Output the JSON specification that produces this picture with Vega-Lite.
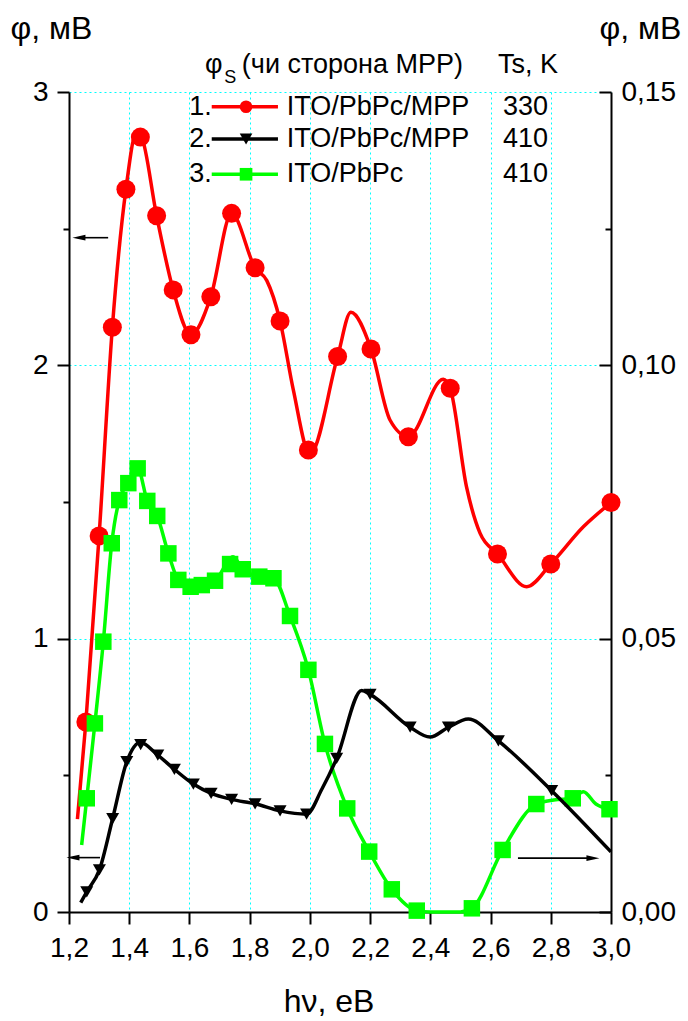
{
  "$schema": "https://vega.github.io/schema/vega-lite/v6.json",
  "width": 542,
  "height": 820,
  "autosize": {"type": "none"},
  "padding": {"left": 69, "top": 92, "right": 77, "bottom": 109},
  "background": "white",
  "config": {
    "view": {"stroke": null},
    "font": "Liberation Sans",
    "text": {"font": "Liberation Sans", "color": "#000000"},
    "axis": {
      "domainColor": "#000000",
      "domainWidth": 2,
      "tickColor": "#000000",
      "tickWidth": 2,
      "labelColor": "#000000",
      "labelFont": "Liberation Sans",
      "labelFontSize": 28,
      "titleFont": "Liberation Sans",
      "titleFontSize": 32,
      "titleFontWeight": "normal",
      "titleColor": "#000000",
      "gridColor": "#00ffff",
      "gridDash": [2, 3],
      "gridWidth": 1,
      "labelOverlap": false,
      "labelFlush": false,
      "labelBound": false
    }
  },
  "datasets": {
    "lines": [
      {"s": "1", "hv": 1.228, "phi": 0.34},
      {"s": "1", "hv": 1.256, "phi": 0.695},
      {"s": "1", "hv": 1.3, "phi": 1.376},
      {"s": "1", "hv": 1.344, "phi": 2.139},
      {"s": "1", "hv": 1.389, "phi": 2.644},
      {"s": "1", "hv": 1.425, "phi": 2.855},
      {"s": "1", "hv": 1.44, "phi": 2.84},
      {"s": "1", "hv": 1.491, "phi": 2.547},
      {"s": "1", "hv": 1.546, "phi": 2.276},
      {"s": "1", "hv": 1.605, "phi": 2.112},
      {"s": "1", "hv": 1.671, "phi": 2.251},
      {"s": "1", "hv": 1.74, "phi": 2.556},
      {"s": "1", "hv": 1.818, "phi": 2.357},
      {"s": "1", "hv": 1.857, "phi": 2.31},
      {"s": "1", "hv": 1.901, "phi": 2.162},
      {"s": "1", "hv": 1.945, "phi": 1.91},
      {"s": "1", "hv": 2.0, "phi": 1.675},
      {"s": "1", "hv": 2.092, "phi": 2.032},
      {"s": "1", "hv": 2.136, "phi": 2.194},
      {"s": "1", "hv": 2.203, "phi": 2.06},
      {"s": "1", "hv": 2.266, "phi": 1.8},
      {"s": "1", "hv": 2.327, "phi": 1.739},
      {"s": "1", "hv": 2.443, "phi": 1.949},
      {"s": "1", "hv": 2.466, "phi": 1.916},
      {"s": "1", "hv": 2.52, "phi": 1.556},
      {"s": "1", "hv": 2.565, "phi": 1.386},
      {"s": "1", "hv": 2.623, "phi": 1.31},
      {"s": "1", "hv": 2.72, "phi": 1.19},
      {"s": "1", "hv": 2.8, "phi": 1.273},
      {"s": "1", "hv": 2.909, "phi": 1.41},
      {"s": "1", "hv": 3.0, "phi": 1.498},

      {"s": "3", "hv": 1.242, "phi": 0.245},
      {"s": "3", "hv": 1.259, "phi": 0.416},
      {"s": "3", "hv": 1.286, "phi": 0.69},
      {"s": "3", "hv": 1.314, "phi": 0.989},
      {"s": "3", "hv": 1.342, "phi": 1.349},
      {"s": "3", "hv": 1.367, "phi": 1.507},
      {"s": "3", "hv": 1.397, "phi": 1.569},
      {"s": "3", "hv": 1.428, "phi": 1.623},
      {"s": "3", "hv": 1.46, "phi": 1.504},
      {"s": "3", "hv": 1.493, "phi": 1.449},
      {"s": "3", "hv": 1.53, "phi": 1.312},
      {"s": "3", "hv": 1.563, "phi": 1.215},
      {"s": "3", "hv": 1.604, "phi": 1.19},
      {"s": "3", "hv": 1.641, "phi": 1.196},
      {"s": "3", "hv": 1.685, "phi": 1.212},
      {"s": "3", "hv": 1.745, "phi": 1.3},
      {"s": "3", "hv": 1.777, "phi": 1.254},
      {"s": "3", "hv": 1.832, "phi": 1.227},
      {"s": "3", "hv": 1.879, "phi": 1.221},
      {"s": "3", "hv": 1.934, "phi": 1.083},
      {"s": "3", "hv": 1.995, "phi": 0.886},
      {"s": "3", "hv": 2.05, "phi": 0.615},
      {"s": "3", "hv": 2.124, "phi": 0.379},
      {"s": "3", "hv": 2.197, "phi": 0.221},
      {"s": "3", "hv": 2.272, "phi": 0.083},
      {"s": "3", "hv": 2.355, "phi": 0.005},
      {"s": "3", "hv": 2.4, "phi": 0.0},
      {"s": "3", "hv": 2.5, "phi": 0.0},
      {"s": "3", "hv": 2.538, "phi": 0.0135},
      {"s": "3", "hv": 2.64, "phi": 0.227},
      {"s": "3", "hv": 2.752, "phi": 0.395},
      {"s": "3", "hv": 2.81, "phi": 0.41},
      {"s": "3", "hv": 2.873, "phi": 0.416},
      {"s": "3", "hv": 2.908, "phi": 0.44},
      {"s": "3", "hv": 2.95, "phi": 0.395},
      {"s": "3", "hv": 2.995, "phi": 0.376},

      {"s": "2", "hv": 1.239, "phi": 0.0017},
      {"s": "2", "hv": 1.259, "phi": 0.0037},
      {"s": "2", "hv": 1.301, "phi": 0.0077},
      {"s": "2", "hv": 1.345, "phi": 0.0171},
      {"s": "2", "hv": 1.392, "phi": 0.0275},
      {"s": "2", "hv": 1.437, "phi": 0.031},
      {"s": "2", "hv": 1.495, "phi": 0.0287},
      {"s": "2", "hv": 1.55, "phi": 0.0261},
      {"s": "2", "hv": 1.613, "phi": 0.0234},
      {"s": "2", "hv": 1.672, "phi": 0.0217},
      {"s": "2", "hv": 1.74, "phi": 0.0206},
      {"s": "2", "hv": 1.818, "phi": 0.0198},
      {"s": "2", "hv": 1.901, "phi": 0.0185},
      {"s": "2", "hv": 1.989, "phi": 0.0179},
      {"s": "2", "hv": 2.04, "phi": 0.0225},
      {"s": "2", "hv": 2.089, "phi": 0.0281},
      {"s": "2", "hv": 2.172, "phi": 0.0405},
      {"s": "2", "hv": 2.2, "phi": 0.0398},
      {"s": "2", "hv": 2.333, "phi": 0.0338},
      {"s": "2", "hv": 2.399, "phi": 0.032},
      {"s": "2", "hv": 2.46, "phi": 0.0338},
      {"s": "2", "hv": 2.526, "phi": 0.0353},
      {"s": "2", "hv": 2.626, "phi": 0.0313},
      {"s": "2", "hv": 2.803, "phi": 0.0222},
      {"s": "2", "hv": 3.0, "phi": 0.011}
    ],
    "markers": [
      {"s": "1", "hv": 1.256, "phi": 0.695},
      {"s": "1", "hv": 1.3, "phi": 1.376},
      {"s": "1", "hv": 1.344, "phi": 2.139},
      {"s": "1", "hv": 1.389, "phi": 2.644},
      {"s": "1", "hv": 1.437, "phi": 2.835},
      {"s": "1", "hv": 1.491, "phi": 2.547},
      {"s": "1", "hv": 1.546, "phi": 2.276},
      {"s": "1", "hv": 1.605, "phi": 2.112},
      {"s": "1", "hv": 1.671, "phi": 2.251},
      {"s": "1", "hv": 1.74, "phi": 2.556},
      {"s": "1", "hv": 1.818, "phi": 2.357},
      {"s": "1", "hv": 1.901, "phi": 2.162},
      {"s": "1", "hv": 1.995, "phi": 1.69},
      {"s": "1", "hv": 2.092, "phi": 2.032},
      {"s": "1", "hv": 2.203, "phi": 2.06},
      {"s": "1", "hv": 2.327, "phi": 1.739},
      {"s": "1", "hv": 2.466, "phi": 1.916},
      {"s": "1", "hv": 2.623, "phi": 1.31},
      {"s": "1", "hv": 2.8, "phi": 1.273},
      {"s": "1", "hv": 3.0, "phi": 1.498},

      {"s": "3", "hv": 1.259, "phi": 0.416},
      {"s": "3", "hv": 1.286, "phi": 0.69},
      {"s": "3", "hv": 1.314, "phi": 0.989},
      {"s": "3", "hv": 1.342, "phi": 1.349},
      {"s": "3", "hv": 1.367, "phi": 1.507},
      {"s": "3", "hv": 1.397, "phi": 1.569},
      {"s": "3", "hv": 1.428, "phi": 1.623},
      {"s": "3", "hv": 1.46, "phi": 1.504},
      {"s": "3", "hv": 1.493, "phi": 1.449},
      {"s": "3", "hv": 1.53, "phi": 1.312},
      {"s": "3", "hv": 1.563, "phi": 1.215},
      {"s": "3", "hv": 1.604, "phi": 1.19},
      {"s": "3", "hv": 1.641, "phi": 1.196},
      {"s": "3", "hv": 1.685, "phi": 1.212},
      {"s": "3", "hv": 1.735, "phi": 1.273},
      {"s": "3", "hv": 1.777, "phi": 1.254},
      {"s": "3", "hv": 1.832, "phi": 1.227},
      {"s": "3", "hv": 1.879, "phi": 1.221},
      {"s": "3", "hv": 1.934, "phi": 1.083},
      {"s": "3", "hv": 1.995, "phi": 0.886},
      {"s": "3", "hv": 2.05, "phi": 0.615},
      {"s": "3", "hv": 2.124, "phi": 0.379},
      {"s": "3", "hv": 2.197, "phi": 0.221},
      {"s": "3", "hv": 2.272, "phi": 0.083},
      {"s": "3", "hv": 2.355, "phi": 0.005},
      {"s": "3", "hv": 2.538, "phi": 0.0135},
      {"s": "3", "hv": 2.64, "phi": 0.227},
      {"s": "3", "hv": 2.752, "phi": 0.395},
      {"s": "3", "hv": 2.873, "phi": 0.416},
      {"s": "3", "hv": 2.995, "phi": 0.376},

      {"s": "2", "hv": 1.259, "phi": 0.0037},
      {"s": "2", "hv": 1.301, "phi": 0.0077},
      {"s": "2", "hv": 1.345, "phi": 0.0171},
      {"s": "2", "hv": 1.392, "phi": 0.0275},
      {"s": "2", "hv": 1.438, "phi": 0.0306},
      {"s": "2", "hv": 1.495, "phi": 0.0287},
      {"s": "2", "hv": 1.55, "phi": 0.0261},
      {"s": "2", "hv": 1.613, "phi": 0.0234},
      {"s": "2", "hv": 1.672, "phi": 0.0217},
      {"s": "2", "hv": 1.74, "phi": 0.0206},
      {"s": "2", "hv": 1.818, "phi": 0.0198},
      {"s": "2", "hv": 1.901, "phi": 0.0185},
      {"s": "2", "hv": 1.989, "phi": 0.0179},
      {"s": "2", "hv": 2.089, "phi": 0.0281},
      {"s": "2", "hv": 2.2, "phi": 0.0398},
      {"s": "2", "hv": 2.333, "phi": 0.0338},
      {"s": "2", "hv": 2.46, "phi": 0.0338},
      {"s": "2", "hv": 2.626, "phi": 0.0313},
      {"s": "2", "hv": 2.803, "phi": 0.0222}
    ],
    "legend": [
      {"s": "1", "n": "1.", "label": "ITO/PbPc/MPP", "ts": "330", "ly": 2.946},
      {"s": "2", "n": "2.", "label": "ITO/PbPc/MPP", "ts": "410", "ly": 2.828},
      {"s": "3", "n": "3.", "label": "ITO/PbPc", "ts": "410", "ly": 2.699}
    ],
    "header": [
      {"t": "φ", "part": "main", "hx": 1.652, "hy": 3.099},
      {"t": "(чи сторона MPP)", "part": "main", "hx": 1.774, "hy": 3.099},
      {"t": "Ts, K", "part": "main", "hx": 2.625, "hy": 3.099},
      {"t": "S", "part": "sub", "hx": 1.716, "hy": 3.05}
    ],
    "arrows": [
      {"x1": 1.233, "x2": 1.33, "y": 2.467, "dir": "left"},
      {"x1": 1.213, "x2": 1.303, "y": 0.199, "dir": "left"},
      {"x1": 2.691, "x2": 2.94, "y": 0.197, "dir": "right"}
    ]
  },
  "layer": [
    {
      "layer": [
        {
          "mark": {"type": "rect", "color": "white"},
          "encoding": {
            "x": {"datum": 1.55, "type": "quantitative", "scale": {"domain": [1.2, 3.0], "nice": false, "zero": false}},
            "x2": {"datum": 2.93},
            "y": {"datum": 2.59, "type": "quantitative", "scale": {"domain": [0, 3], "nice": false}},
            "y2": {"datum": 3.05}
          }
        },
        {
          "data": {"name": "lines"},
          "transform": [{"filter": "datum.s == '1'"}],
          "mark": {"type": "line", "interpolate": "monotone", "strokeWidth": 3.5},
          "encoding": {
            "x": {
              "field": "hv", "type": "quantitative",
              "scale": {"domain": [1.2, 3.0], "nice": false, "zero": false},
              "axis": {
                "values": [1.2, 1.3, 1.4, 1.5, 1.6, 1.7, 1.8, 1.9, 2.0, 2.1, 2.2, 2.3, 2.4, 2.5, 2.6, 2.7, 2.8, 2.9, 3.0],
                "labelExpr": "abs(datum.value*5 - round(datum.value*5)) < 0.01 ? replace(format(datum.value, '.1f'), '.', ',') : ''",
                "tickSize": {"condition": {"test": "abs(datum.value*5 - round(datum.value*5)) < 0.01", "value": 12}, "value": 7},
                "grid": true,
                "gridOpacity": {"condition": {"test": "abs(datum.value*5 - round(datum.value*5)) < 0.01 && datum.value > 1.3 && datum.value < 2.9", "value": 1}, "value": 0},
                "labelPadding": 10,
                "title": "hν, eB",
                "titleX": 259.5,
                "titleY": 89,
                "titleAlign": "center",
                "titleBaseline": "middle",
                "titleAngle": 0
              }
            },
            "y": {
              "field": "phi", "type": "quantitative",
              "scale": {"domain": [0, 3], "nice": false},
              "axis": {
                "orient": "left",
                "values": [0, 0.5, 1, 1.5, 2, 2.5, 3],
                "labelExpr": "datum.value % 1 == 0 ? format(datum.value, 'd') : ''",
                "tickSize": {"condition": {"test": "datum.value % 1 == 0", "value": 12}, "value": 6},
                "grid": true,
                "gridOpacity": {"condition": {"test": "datum.value % 1 == 0 && datum.value > 0", "value": 1}, "value": 0},
                "labelPadding": 9,
                "title": "φ, мВ",
                "titleAngle": 0,
                "titleX": -59,
                "titleY": -64,
                "titleAlign": "left",
                "titleBaseline": "middle"
              }
            },
            "color": {"field": "s", "type": "nominal", "scale": {"domain": ["1", "2", "3"], "range": ["#ff0000", "#000000", "#00ff00"]}, "legend": null}
          }
        },
        {
          "data": {"name": "markers"},
          "transform": [{"filter": "datum.s == '1'"}],
          "mark": {"type": "point", "filled": true, "opacity": 1, "size": 361, "strokeWidth": 0},
          "encoding": {
            "x": {"field": "hv", "type": "quantitative"},
            "y": {"field": "phi", "type": "quantitative"},
            "color": {"field": "s", "type": "nominal", "legend": null},
            "shape": {"field": "s", "type": "nominal", "scale": {"domain": ["1", "2", "3"], "range": ["circle", "triangle-down", "square"]}, "legend": null}
          }
        },
        {
          "data": {"name": "lines"},
          "transform": [{"filter": "datum.s == '3'"}],
          "mark": {"type": "line", "interpolate": "monotone", "strokeWidth": 3.5},
          "encoding": {
            "x": {"field": "hv", "type": "quantitative"},
            "y": {"field": "phi", "type": "quantitative"},
            "color": {"field": "s", "type": "nominal", "legend": null}
          }
        },
        {
          "data": {"name": "markers"},
          "transform": [{"filter": "datum.s == '3'"}],
          "mark": {"type": "point", "filled": true, "opacity": 1, "size": 272, "strokeWidth": 0},
          "encoding": {
            "x": {"field": "hv", "type": "quantitative"},
            "y": {"field": "phi", "type": "quantitative"},
            "color": {"field": "s", "type": "nominal", "legend": null},
            "shape": {"field": "s", "type": "nominal", "legend": null}
          }
        },
        {
          "data": {"name": "legend"},
          "mark": {"type": "rule", "strokeWidth": 3.5},
          "encoding": {
            "x": {"datum": 1.674, "type": "quantitative"},
            "x2": {"datum": 1.894},
            "y": {"field": "ly", "type": "quantitative"},
            "color": {"field": "s", "type": "nominal", "legend": null}
          }
        },
        {
          "data": {"name": "legend"},
          "mark": {"type": "point", "filled": true, "opacity": 1, "size": 160, "strokeWidth": 0},
          "encoding": {
            "x": {"datum": 1.788, "type": "quantitative"},
            "y": {"field": "ly", "type": "quantitative"},
            "color": {"field": "s", "type": "nominal", "legend": null},
            "shape": {"field": "s", "type": "nominal", "legend": null}
          }
        },
        {
          "data": {"name": "legend"},
          "mark": {"type": "text", "align": "right", "baseline": "middle", "fontSize": 27},
          "encoding": {
            "x": {"datum": 1.674, "type": "quantitative"},
            "y": {"field": "ly", "type": "quantitative"},
            "text": {"field": "n"}
          }
        },
        {
          "data": {"name": "legend"},
          "mark": {"type": "text", "align": "left", "baseline": "middle", "fontSize": 27},
          "encoding": {
            "x": {"datum": 1.923, "type": "quantitative"},
            "y": {"field": "ly", "type": "quantitative"},
            "text": {"field": "label"}
          }
        },
        {
          "data": {"name": "legend"},
          "mark": {"type": "text", "align": "left", "baseline": "middle", "fontSize": 27},
          "encoding": {
            "x": {"datum": 2.641, "type": "quantitative"},
            "y": {"field": "ly", "type": "quantitative"},
            "text": {"field": "ts"}
          }
        },
        {
          "data": {"name": "header"},
          "transform": [{"filter": "datum.part == 'main'"}],
          "mark": {"type": "text", "align": "left", "baseline": "middle", "fontSize": 27},
          "encoding": {
            "x": {"field": "hx", "type": "quantitative"},
            "y": {"field": "hy", "type": "quantitative"},
            "text": {"field": "t"}
          }
        },
        {
          "data": {"name": "header"},
          "transform": [{"filter": "datum.part == 'sub'"}],
          "mark": {"type": "text", "align": "left", "baseline": "middle", "fontSize": 18},
          "encoding": {
            "x": {"field": "hx", "type": "quantitative"},
            "y": {"field": "hy", "type": "quantitative"},
            "text": {"field": "t"}
          }
        },
        {
          "data": {"name": "arrows"},
          "mark": {"type": "rule", "strokeWidth": 1.6, "color": "#000000"},
          "encoding": {
            "x": {"field": "x1", "type": "quantitative"},
            "x2": {"field": "x2"},
            "y": {"field": "y", "type": "quantitative"}
          }
        },
        {
          "data": {"name": "arrows"},
          "transform": [{"filter": "datum.dir == 'left'"}],
          "mark": {"type": "point", "filled": true, "opacity": 1, "size": 169, "strokeWidth": 0, "color": "#000000", "shape": "M-1,0L1,-0.45L1,0.45Z"},
          "encoding": {
            "x": {"field": "x1", "type": "quantitative"},
            "y": {"field": "y", "type": "quantitative"}
          }
        },
        {
          "data": {"name": "arrows"},
          "transform": [{"filter": "datum.dir == 'right'"}],
          "mark": {"type": "point", "filled": true, "opacity": 1, "size": 169, "strokeWidth": 0, "color": "#000000", "shape": "M1,0L-1,-0.45L-1,0.45Z"},
          "encoding": {
            "x": {"field": "x2", "type": "quantitative"},
            "y": {"field": "y", "type": "quantitative"}
          }
        }
      ]
    },
    {
      "layer": [
        {
          "data": {"name": "lines"},
          "transform": [{"filter": "datum.s == '2'"}],
          "mark": {"type": "line", "interpolate": "monotone", "strokeWidth": 3.5},
          "encoding": {
            "x": {"field": "hv", "type": "quantitative", "scale": {"domain": [1.2, 3.0], "nice": false, "zero": false}},
            "y": {
              "field": "phi", "type": "quantitative",
              "scale": {"domain": [0, 0.15], "nice": false},
              "axis": {
                "orient": "right",
                "values": [0, 0.025, 0.05, 0.075, 0.1, 0.125, 0.15],
                "labelExpr": "abs(datum.value*20 - round(datum.value*20)) < 0.01 ? replace(format(datum.value, '.2f'), '.', ',') : ''",
                "tickSize": {"condition": {"test": "abs(datum.value*20 - round(datum.value*20)) < 0.01", "value": -12}, "value": -6},
                "grid": false,
                "labelPadding": 22,
                "title": "φ, мВ",
                "titleAngle": 0,
                "titleX": -12,
                "titleY": -64,
                "titleAlign": "left",
                "titleBaseline": "middle"
              }
            },
            "color": {"field": "s", "type": "nominal", "legend": null}
          }
        },
        {
          "data": {"name": "markers"},
          "transform": [{"filter": "datum.s == '2'"}],
          "mark": {"type": "point", "filled": true, "opacity": 1, "size": 169, "strokeWidth": 0},
          "encoding": {
            "x": {"field": "hv", "type": "quantitative"},
            "y": {"field": "phi", "type": "quantitative"},
            "color": {"field": "s", "type": "nominal", "legend": null},
            "shape": {"field": "s", "type": "nominal", "legend": null}
          }
        }
      ]
    }
  ],
  "resolve": {"scale": {"y": "independent"}, "axis": {"y": "independent"}}
}
